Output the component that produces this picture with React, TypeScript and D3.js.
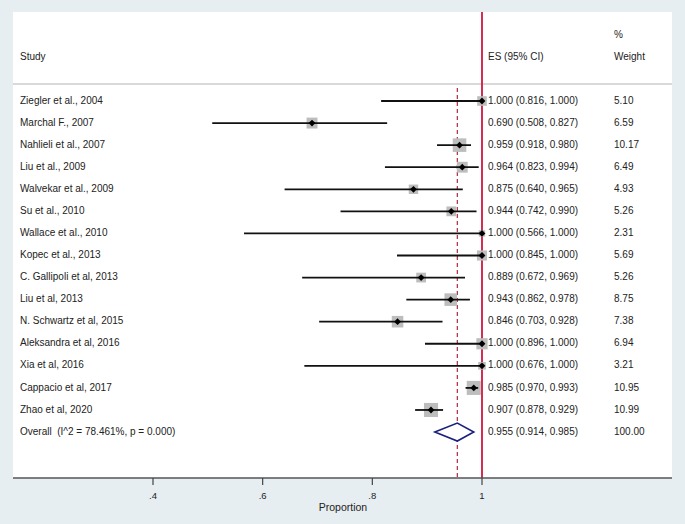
import { useEffect, useRef } from 'react';
import * as d3 from 'd3';

// Forest plot: proportion per study with 95% CI and random-effects weights.

const WIDTH = 685;
const HEIGHT = 524;

const STUDIES = [
  'Ziegler et al., 2004',
  'Marchal F., 2007',
  'Nahlieli et al., 2007',
  'Liu et al., 2009',
  'Walvekar et al., 2009',
  'Su et al., 2010',
  'Wallace et al., 2010',
  'Kopec et al., 2013',
  'C. Gallipoli et al, 2013',
  'Liu et al, 2013',
  'N. Schwartz et al, 2015',
  'Aleksandra et al, 2016',
  'Xia et al, 2016',
  'Cappacio et al, 2017',
  'Zhao et al, 2020',
];
const ES = [1.0, 0.69, 0.959, 0.964, 0.875, 0.944, 1.0, 1.0, 0.889, 0.943, 0.846, 1.0, 1.0, 0.985, 0.907];
const LOWER = [0.816, 0.508, 0.918, 0.823, 0.64, 0.742, 0.566, 0.845, 0.672, 0.862, 0.703, 0.896, 0.676, 0.97, 0.878];
const UPPER = [1.0, 0.827, 0.98, 0.994, 0.965, 0.99, 1.0, 1.0, 0.969, 0.978, 0.928, 1.0, 1.0, 0.993, 0.929];
const WEIGHTS = [5.1, 6.59, 10.17, 6.49, 4.93, 5.26, 2.31, 5.69, 5.26, 8.75, 7.38, 6.94, 3.21, 10.95, 10.99];

const OVERALL_LABEL = 'Overall  (I^2 = 78.461%, p = 0.000)';
const OVERALL = { es: 0.955, lower: 0.914, upper: 0.985, weight: 100 };

const X_TICKS = [0.4, 0.6, 0.8, 1];

const FONT = 'Liberation Sans, Arial, Helvetica, sans-serif';
const TEXT_COLOR = '#222222';

const fmt3 = d3.format('.3f');
const fmt2 = d3.format('.2f');

export default function App() {
  const svgRef = useRef<SVGSVGElement | null>(null);

  useEffect(() => {
    const svgEl = svgRef.current;
    if (!svgEl) return;
    const svg = d3.select(svgEl);
    svg.selectAll('*').remove();

    const panel = { left: 13, right: 672, top: 12, bottom: 478 };
    const firstRowY = 101;
    const rowStep = 22.07;

    const xScale = d3.scaleLinear().domain([0.4, 1]).range([153, 482]);
    const yScale = (i: number) => firstRowY + i * rowStep;
    const boxSide = (w: number) => 4.25 * Math.sqrt(w);

    // ---- Background + white plot region ---------------------------------
    svg.append('rect').attr('width', WIDTH).attr('height', HEIGHT).attr('fill', '#e7eef1');
    svg
      .append('rect')
      .attr('x', panel.left)
      .attr('y', panel.top)
      .attr('width', panel.right - panel.left)
      .attr('height', panel.bottom - panel.top)
      .attr('fill', '#ffffff');

    const text = (x: number, y: number, s: string, size = 10, anchor = 'start') =>
      svg
        .append('text')
        .attr('x', x)
        .attr('y', y)
        .attr('font-family', FONT)
        .attr('font-size', size)
        .attr('fill', TEXT_COLOR)
        .attr('text-anchor', anchor)
        .attr('dominant-baseline', 'middle')
        .style('white-space', 'pre')
        .text(s);

    // ---- Header ----------------------------------------------------------
    text(20, 57, 'Study');
    text(488, 57, 'ES (95% CI)');
    text(614, 35, '%');
    text(614, 57, 'Weight');
    svg
      .append('line')
      .attr('x1', panel.left)
      .attr('x2', panel.right)
      .attr('y1', 84)
      .attr('y2', 84)
      .attr('stroke', '#d9d9d9')
      .attr('stroke-width', 2);

    // ---- Reference lines -------------------------------------------------
    svg
      .append('line')
      .attr('x1', xScale(OVERALL.es))
      .attr('x2', xScale(OVERALL.es))
      .attr('y1', 88)
      .attr('y2', panel.bottom)
      .attr('stroke', '#b0283c')
      .attr('stroke-width', 1.2)
      .attr('stroke-dasharray', '4 3');
    svg
      .append('line')
      .attr('x1', xScale(1))
      .attr('x2', xScale(1))
      .attr('y1', panel.top)
      .attr('y2', panel.bottom)
      .attr('stroke', '#d0173f')
      .attr('stroke-width', 1.8);

    // ---- Study rows ------------------------------------------------------
    STUDIES.forEach((name, i) => {
      const y = yScale(i);
      const cx = xScale(ES[i]);
      const side = boxSide(WEIGHTS[i]);
      svg
        .append('rect')
        .attr('x', cx - side / 2)
        .attr('y', y - side / 2)
        .attr('width', side)
        .attr('height', side)
        .attr('fill', '#bdbdbd');
      svg
        .append('line')
        .attr('x1', xScale(LOWER[i]))
        .attr('x2', xScale(UPPER[i]))
        .attr('y1', y)
        .attr('y2', y)
        .attr('stroke', '#111111')
        .attr('stroke-width', 1.8);
      svg
        .append('path')
        .attr('d', `M${cx - 3.4},${y}L${cx},${y - 3.4}L${cx + 3.4},${y}L${cx},${y + 3.4}Z`)
        .attr('fill', '#000000');
      text(20, y, name);
      text(488, y, `${fmt3(ES[i])} (${fmt3(LOWER[i])}, ${fmt3(UPPER[i])})`);
      text(614, y, fmt2(WEIGHTS[i]));
    });

    // ---- Overall diamond -------------------------------------------------
    const oy = yScale(STUDIES.length);
    const diamond = [
      [xScale(OVERALL.lower), oy],
      [xScale(OVERALL.es), oy - 9],
      [xScale(OVERALL.upper), oy],
      [xScale(OVERALL.es), oy + 9],
    ] as [number, number][];
    svg
      .append('path')
      .attr('d', d3.line()(diamond) + 'Z')
      .attr('fill', '#ffffff')
      .attr('stroke', '#1b1f7e')
      .attr('stroke-width', 1.6);
    text(20, oy, OVERALL_LABEL);
    text(488, oy, `${fmt3(OVERALL.es)} (${fmt3(OVERALL.lower)}, ${fmt3(OVERALL.upper)})`);
    text(614, oy, fmt2(OVERALL.weight));

    // ---- X axis ----------------------------------------------------------
    svg
      .append('line')
      .attr('x1', panel.left)
      .attr('x2', panel.right)
      .attr('y1', panel.bottom)
      .attr('y2', panel.bottom)
      .attr('stroke', '#555555')
      .attr('stroke-width', 1.5);
    X_TICKS.forEach((t) => {
      svg
        .append('line')
        .attr('x1', xScale(t))
        .attr('x2', xScale(t))
        .attr('y1', panel.bottom)
        .attr('y2', panel.bottom + 7)
        .attr('stroke', '#444444')
        .attr('stroke-width', 1.2);
      text(xScale(t), 496, t === 1 ? '1' : d3.format('.1f')(t).replace(/^0/, ''), 9.5, 'middle');
    });
    text(343, 508, 'Proportion', 10.5, 'middle');
  }, []);

  return (
    <svg
      ref={svgRef}
      width={WIDTH}
      height={HEIGHT}
      viewBox={`0 0 ${WIDTH} ${HEIGHT}`}
      style={{ position: 'absolute', left: 0, top: 0, display: 'block' }}
    />
  );
}
